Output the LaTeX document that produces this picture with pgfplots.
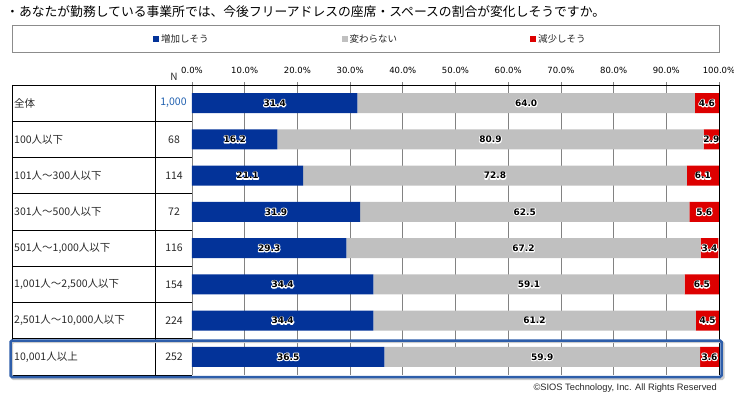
\documentclass[border=0pt]{standalone}
\usepackage{pgfplots}
\pgfplotsset{compat=1.18}
\usepackage{pgfplotstable}
\usepackage{fontspec}
\setmainfont{Noto Sans CJK JP}
\newfontfamily\tickfont{DejaVu Sans}
\newfontfamily\copyfont{Liberation Sans}
\definecolor{barblue}{RGB}{3,51,153}
\definecolor{bargray}{RGB}{192,192,192}
\definecolor{barred}{RGB}{221,0,0}
\definecolor{hlblue}{RGB}{46,94,170}
\definecolor{nblue}{RGB}{31,95,175}
\definecolor{txt}{RGB}{40,40,40}
\definecolor{gridc}{RGB}{130,130,130}
\newcommand\halo[1]{\makebox[0pt][l]{\special{pdf:literal direct 1 Tr 2 w 1 j 1 1 1 RG}#1\special{pdf:literal direct 0 Tr 0 0 0 RG}}#1}

\pgfplotstableread{
idx inc same dec
1 31.4 64.0 4.6
2 16.2 80.9 2.9
3 21.1 72.8 6.1
4 31.9 62.5 5.6
5 29.3 67.2 3.4
6 34.4 59.1 6.5
7 34.4 61.2 4.5
8 36.5 59.9 3.6
}\datatable

\begin{document}
\begin{tikzpicture}
\path[use as bounding box] (0pt,0pt) rectangle (734pt,-398pt);
\begin{axis}[
  at={(192pt,-375pt)}, anchor=south west,
  width=527pt, height=290pt, scale only axis,
  xmin=0, xmax=100, ymin=0.5, ymax=8.5, y dir=reverse,
  clip=false,
  xbar stacked, bar width=20pt,
  axis line style={draw=none},
  xtick={0,10,...,100},
  xtick pos=right, xticklabel pos=right,
  tick align=outside, major tick length=3pt,
  xtick style={gridc, line width=0.8pt},
  xmajorgrids, major grid style={gridc, line width=0.8pt},
  ytick={1,...,8},
  yticklabels={全体,100人以下,101人～300人以下,301人～500人以下,501人～1{,}000人以下,1{,}001人～2{,}500人以下,2{,}501人～10{,}000人以下,10{,}001人以上},
  ytick style={draw=none},
  yticklabel style={anchor=west, xshift=-175pt, inner sep=0pt, font=\fontsize{10.5}{12}\selectfont, text=txt},
  /pgf/number format/assume math mode=true,
  xticklabel={\pgfmathprintnumber[fixed,fixed zerofill,precision=1]{\tick}\%},
  xticklabel style={font=\tickfont\fontsize{8.5}{10}\selectfont, text=black, yshift=5pt},
  legend columns=3,
  legend style={at={(axis description cs:-0.0797,1.1586)}, anchor=west, draw=none, fill=none,
    font=\fontsize{9.5}{11}\selectfont, text=txt,
    /tikz/every even column/.append style={column sep=131pt}},
  legend image code/.code={\fill[#1] (0pt,-3pt) rectangle (6pt,3pt);},
  nodes near coords={\halo{\pgfplotspointmeta}}, point meta=explicit symbolic,
  nodes near coords style={anchor=center, font=\tickfont\bfseries\fontsize{9}{10}\selectfont, text=black},
]
\addlegendimage{fill=barblue, draw=none}
\addlegendimage{fill=bargray, draw=none}
\addlegendimage{fill=barred, draw=none}
\addplot[fill=barblue, draw=none] table[x=inc, y=idx, meta=inc] {\datatable};
\addplot[fill=bargray, draw=none] table[x=same, y=idx, meta=same] {\datatable};
\addplot[fill=barred, draw=none] table[x=dec, y=idx, meta=dec] {\datatable};
\legend{増加しそう,変わらない,減少しそう}
\end{axis}
\begin{scope}[x=1pt,y=-1pt]
  % title
  \node[anchor=west, inner sep=0pt, text=black] at (6,12) {\fontsize{12.8}{14}\selectfont ・あなたが勤務している事業所では、今後フリーアドレスの座席・スペースの割合が変化しそうですか。};
  % legend frame
  \draw[black!45, line width=0.8] (12,25) rectangle (719,52);
  % table lines
  \draw[black, line width=0.9] (12,85) -- (719,85);
  \draw[black, line width=0.9] (719,85) -- (719,375);
  \draw[black, line width=0.9] (12,85) -- (12,375);
  \draw[black, line width=0.9] (155,85) -- (155,375);
  \foreach \yy in {121.25,157.5,193.75,230,266.25,302.5,338.75,375} {
    \draw[black, line width=0.9] (12,\yy) -- (192,\yy);
  }
  % N column
  \node[text=txt, inner sep=0pt] at (174,77) {\fontsize{10}{12}\selectfont N};
  \foreach \nn/\yy in {68/139.4,114/175.6,72/211.9,116/248.1,154/284.4,224/320.6,252/356.9} {
    \node[text=txt, inner sep=0pt] at (174,\yy) {\fontsize{10.5}{12}\selectfont \nn};
  }
  \node[text=nblue, inner sep=0pt] at (173.5,103.1) {\fontsize{10.5}{12}\selectfont 1,000};
  % highlight box
  \draw[black!20, line width=2.2, rounded corners=1.5] (12,342) rectangle (723.5,379);
  \draw[hlblue, line width=2.5, rounded corners=1.5] (10.5,340.5) rectangle (721.5,377);
  % copyright
  \node[anchor=east, inner sep=0pt, text=black!85] at (717,388) {\copyfont\fontsize{9.3}{10}\selectfont ©SIOS Technology, Inc. All Rights Reserved};
\end{scope}
\end{tikzpicture}
\end{document}
